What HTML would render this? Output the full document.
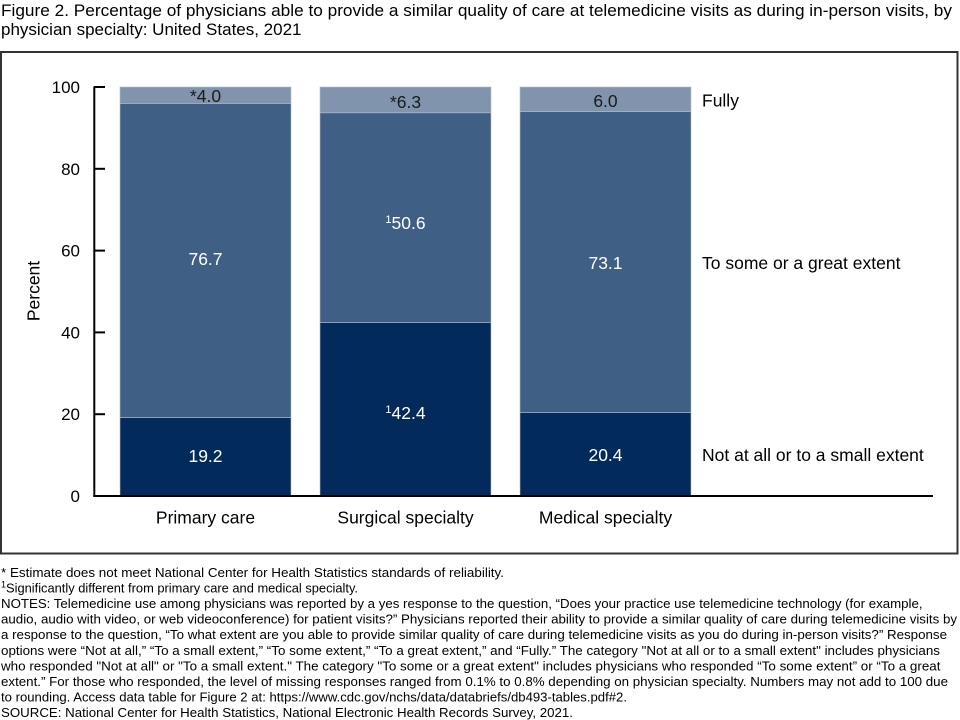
<!DOCTYPE html>
<html>
<head>
<meta charset="utf-8">
<style>
html,body{margin:0;padding:0;background:#fff;}
svg{display:block;}
text{font-family:"Liberation Sans",Arial,sans-serif;}
</style>
</head>
<body>
<svg width="960" height="720" viewBox="0 0 960 720" xmlns="http://www.w3.org/2000/svg">
<rect x="0" y="0" width="960" height="720" fill="#fff"/>
<!-- Title -->
<text x="1" y="16" font-size="17" fill="#000" textLength="951" lengthAdjust="spacingAndGlyphs">Figure 2. Percentage of physicians able to provide a similar quality of care at telemedicine visits as during in-person visits, by</text>
<text x="1" y="35" font-size="17" fill="#000">physician specialty: United States, 2021</text>

<!-- Frame -->
<rect x="1" y="52" width="956.5" height="501.5" fill="none" stroke="#333" stroke-width="2"/>

<!-- Bars -->
<g stroke="#b4c0cf" stroke-width="0.6">
<rect x="120" y="417.5" width="171" height="78.5" fill="#022b5b"/>
<rect x="120" y="103.4" width="171" height="314.1" fill="#3f5f84"/>
<rect x="120" y="87" width="171" height="16.4" fill="#8094ae"/>
<rect x="320" y="322.6" width="171" height="173.4" fill="#022b5b"/>
<rect x="320" y="112.8" width="171" height="209.8" fill="#3f5f84"/>
<rect x="320" y="87" width="171" height="25.8" fill="#8094ae"/>
<rect x="520" y="412.6" width="171" height="83.4" fill="#022b5b"/>
<rect x="520" y="111.5" width="171" height="301.1" fill="#3f5f84"/>
<rect x="520" y="87" width="171" height="24.5" fill="#8094ae"/>
</g>

<!-- Axes -->
<g stroke="#000" stroke-width="2">
<line x1="94.3" y1="86.5" x2="94.3" y2="497"/>
<line x1="93.3" y1="496" x2="933" y2="496"/>
<line x1="94" y1="87" x2="105" y2="87"/>
<line x1="94" y1="168.8" x2="105" y2="168.8"/>
<line x1="94" y1="250.6" x2="105" y2="250.6"/>
<line x1="94" y1="332.4" x2="105" y2="332.4"/>
<line x1="94" y1="414.2" x2="105" y2="414.2"/>
</g>

<!-- Y tick labels -->
<g font-size="17" fill="#000" text-anchor="end">
<text x="80" y="93">100</text>
<text x="80" y="174.8">80</text>
<text x="80" y="256.6">60</text>
<text x="80" y="338.4">40</text>
<text x="80" y="420.2">20</text>
<text x="80" y="502">0</text>
</g>
<text transform="translate(39.5,291) rotate(-90)" font-size="17.5" text-anchor="middle" fill="#000">Percent</text>

<!-- Value labels -->
<g font-size="17.5" text-anchor="middle">
<text x="205.5" y="102" fill="#1a1a1a">*4.0</text>
<text x="205.5" y="265" fill="#fff">76.7</text>
<text x="205.5" y="462" fill="#fff">19.2</text>

<text x="405.5" y="108" fill="#1a1a1a">*6.3</text>
<text x="405.5" y="229" fill="#fff"><tspan font-size="11" dy="-6">1</tspan><tspan dy="6">50.6</tspan></text>
<text x="405.5" y="419" fill="#fff"><tspan font-size="11" dy="-6">1</tspan><tspan dy="6">42.4</tspan></text>

<text x="605.5" y="107" fill="#1a1a1a">6.0</text>
<text x="605.5" y="269" fill="#fff">73.1</text>
<text x="605.5" y="461" fill="#fff">20.4</text>
</g>

<!-- Series labels -->
<g font-size="17.5" fill="#000">
<text x="702" y="106.5">Fully</text>
<text x="702" y="269">To some or a great extent</text>
<text x="702" y="461">Not at all or to a small extent</text>
</g>

<!-- X labels -->
<g font-size="17.5" fill="#000" text-anchor="middle">
<text x="205.5" y="523.5">Primary care</text>
<text x="405.5" y="523.5">Surgical specialty</text>
<text x="605.5" y="523.5">Medical specialty</text>
</g>

<!-- Footnotes -->
<g font-size="13.2" fill="#000">
<text x="1" y="576.8" textLength="503" lengthAdjust="spacingAndGlyphs">* Estimate does not meet National Center for Health Statistics standards of reliability.</text>
<text x="1" y="592.4"><tspan font-size="9" dy="-5">1</tspan><tspan dy="5" textLength="352" lengthAdjust="spacingAndGlyphs">Significantly different from primary care and medical specialty.</tspan></text>
<text x="1" y="608" textLength="921.5" lengthAdjust="spacingAndGlyphs">NOTES: Telemedicine use among physicians was reported by a yes response to the question, “Does your practice use telemedicine technology (for example,</text>
<text x="1" y="623.6" textLength="956" lengthAdjust="spacingAndGlyphs">audio, audio with video, or web videoconference) for patient visits?” Physicians reported their ability to provide a similar quality of care during telemedicine visits by</text>
<text x="1" y="639.2" textLength="946" lengthAdjust="spacingAndGlyphs">a response to the question, “To what extent are you able to provide similar quality of care during telemedicine visits as you do during in-person visits?” Response</text>
<text x="1" y="654.8" textLength="939" lengthAdjust="spacingAndGlyphs">options were “Not at all,” “To a small extent,” “To some extent,” “To a great extent,” and “Fully.” The category "Not at all or to a small extent" includes physicians</text>
<text x="1" y="670.4" textLength="939.5" lengthAdjust="spacingAndGlyphs">who responded "Not at all" or "To a small extent." The category "To some or a great extent" includes physicians who responded “To some extent” or “To a great</text>
<text x="1" y="686" textLength="947" lengthAdjust="spacingAndGlyphs">extent.” For those who responded, the level of missing responses ranged from 0.1% to 0.8% depending on physician specialty. Numbers may not add to 100 due</text>
<text x="1" y="701.6" textLength="626" lengthAdjust="spacingAndGlyphs">to rounding. Access data table for Figure 2 at: https://www.cdc.gov/nchs/data/databriefs/db493-tables.pdf#2.</text>
<text x="1" y="717" textLength="572" lengthAdjust="spacingAndGlyphs">SOURCE: National Center for Health Statistics, National Electronic Health Records Survey, 2021.</text>
</g>
</svg>
</body>
</html>
